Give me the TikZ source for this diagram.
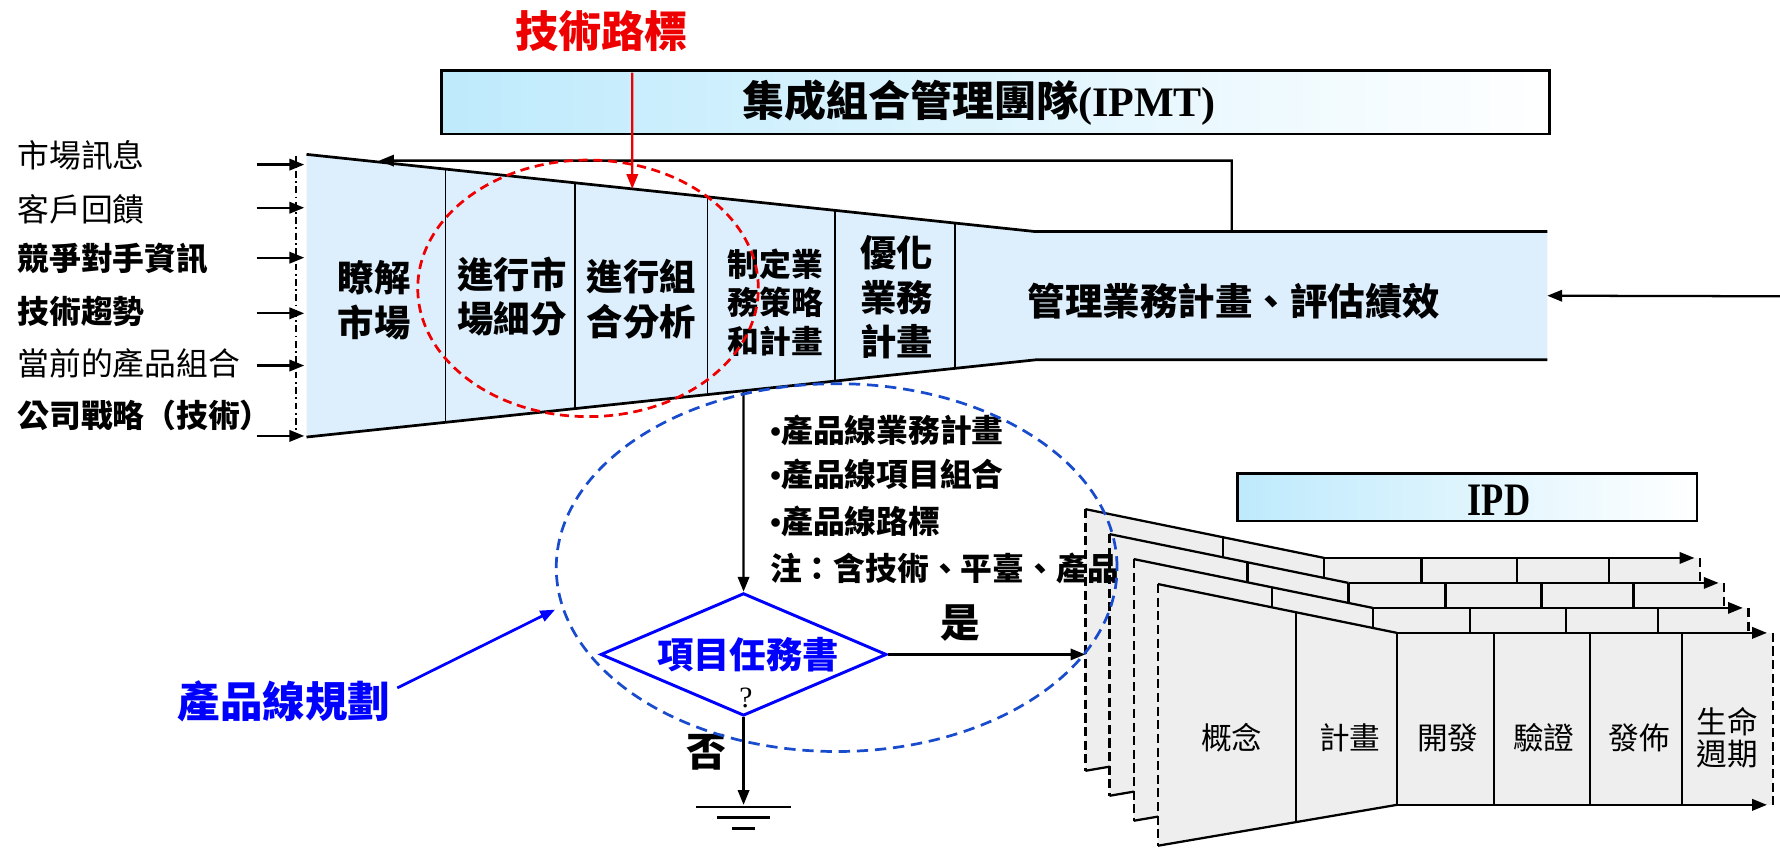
\documentclass[tikz,border=0pt]{standalone}
\usepackage{graphicx}
\usepackage{fontspec}
\setmainfont{Noto Sans CJK TC}
\newfontfamily\latinserif{Liberation Serif}
\usetikzlibrary{arrows.meta,shapes.geometric,calc}
\definecolor{funnelblue}{RGB}{221,238,253}
\definecolor{boxblue}{RGB}{190,234,252}
\definecolor{pagegray}{RGB}{238,238,238}
\definecolor{ellblue}{RGB}{25,75,205}
\definecolor{textblue}{RGB}{0,0,255}
\definecolor{textred}{RGB}{238,0,0}
\newcommand{\blt}{{\latinserif\bfseries •}}
\tikzset{
  arr/.style={-{Triangle[length=6.5pt,width=5pt]}, line width=1pt},
  lbl/.style={anchor=west, inner sep=0pt, font=\fontsize{14pt}{17pt}\selectfont},
  lblb/.style={anchor=west, inner sep=0pt, font=\fontsize{14pt}{17pt}\selectfont\bfseries},
  stage/.style={align=center, inner sep=0pt, font=\fontsize{16pt}{19.5pt}\selectfont\bfseries},
  stagesm/.style={align=center, inner sep=0pt, font=\fontsize{14pt}{17pt}\selectfont\bfseries},
  gradbox/.style={draw=black, line width=1pt, left color=boxblue, right color=white, inner sep=0pt},
  pgline/.style={line width=1pt},
  pgdash/.style={line width=1pt, dash pattern=on 4pt off 2pt},
  pglabel/.style={align=center, inner sep=0pt, font=\fontsize{13.5pt}{14.25pt}\selectfont},
  bulletline/.style={anchor=west, inner sep=0pt, font=\fontsize{14pt}{17pt}\selectfont\bfseries},
  bigbold/.style={inner sep=0pt, font=\fontsize{17.5pt}{20pt}\selectfont\bfseries},
}
\begin{document}
\begin{tikzpicture}[x=0.5pt,y=-0.5pt]
\useasboundingbox (0,0) rectangle (1568,747);

% title
\node[text=textred, font=\fontsize{19pt}{23pt}\selectfont\bfseries, inner sep=0pt] (troad) at (530,27) {技術路標};

% IPMT box
\node[gradbox, minimum width=488pt, minimum height=28pt] (ipmt) at (877,90) {};
\node[inner sep=0pt, font=\fontsize{18.5pt}{22pt}\selectfont] (ipmtlabel) at (862.5,90) {\bfseries 集成組合管理團隊{\latinserif (IPMT)}};

% funnel
\coordinate (ftl) at (270,136);
\coordinate (ftm) at (912,204);
\coordinate (ftr) at (1363,204);
\coordinate (fbl) at (270,385);
\coordinate (fbm) at (912,317);
\coordinate (fbr) at (1363,317);
\fill[funnelblue] (ftl) -- (ftm) -- (ftr) -- (fbr) -- (fbm) -- (fbl) -- cycle;
\draw[line width=1.2pt] (ftl) -- (ftm) -- (ftr);
\draw[line width=1.2pt] (fbl) -- (fbm) -- (fbr);
\foreach \t in {0.1907,0.3684,0.5503,0.7249,0.8894}
  \draw[line width=0.8pt] ($(ftl)!\t!(ftm)$) -- ($(fbl)!\t!(fbm)$);

% left dash-dot boundary
\coordinate (ddtop) at (261,137);
\coordinate (ddbot) at (261,386);
\draw[line width=0.8pt, dash pattern=on 3pt off 1.5pt on 0.8pt off 1.5pt] (ddtop) -- (ddbot);

% input labels
\node[lbl]  (l1) at (15,137) {市場訊息};
\node[lbl]  (l2) at (15,184) {客戶回饋};
\node[lblb] (l3) at (15,228) {競爭對手資訊};
\node[lblb] (l4) at (15,274) {技術趨勢};
\node[lbl]  (l5) at (15,320) {當前的產品組合};
\node[lblb] (l6) at (15,366) {公司戰略（技術）};

% input arrows
\foreach \i/\y in {1/145,2/183,3/227,4/276,5/322,6/384}{
  \coordinate (ia\i) at (226,\y);
  \coordinate (ib\i) at (268,\y);
  \draw[arr] (ia\i) -- (ib\i);
}

% stage texts
\node[stage] (s1) at (329.5,264.5) {瞭解\\市場};
\node[stage] (s2) at (451,261.5) {進行市\\場細分};
\node[stage] (s3) at (565,263.5) {進行組\\合分析};
\node[stagesm] (s4) at (683,266.5) {制定業\\務策略\\和計畫};
\node[stage] (s5) at (790,262) {優化\\業務\\計畫};
\node[inner sep=0pt, font=\fontsize{16.5pt}{20pt}\selectfont\bfseries] (s6) at (1087,265) {管理業務計畫、評估績效};

% feedback loop
\coordinate (fbstart) at ($(ftm)!0.3836!(ftr)$);
\coordinate (fbcorner) at (1085,141.5);
\coordinate (fbend) at (334,141.5);
\draw[arr] (fbstart) -- (fbcorner) -- (fbend);

% right input
\coordinate (rin) at (1568,261);
\coordinate (rend) at ($(ftr)!0.5!(fbr)$);
\draw[arr] (rin) -- (rend);

% red arrow from technology roadmap
\coordinate (redstart) at (557,64);
\coordinate (redend) at ($(ftl)!0.447!(ftm)$);
\draw[textred, -{Triangle[length=6.5pt,width=5pt]}, line width=1pt] (redstart) -- (redend);

% IPD page stack
\foreach \k in {3,2,1,0}{
  \begin{scope}[shift={(-21.3*\k,-22*\k)}]
    \coordinate (pg\k tl) at (1020,514.5);
    \coordinate (pg\k bl) at (1020,745);
    \coordinate (pg\k ct) at (1230.5,557.5);
    \coordinate (pg\k cb) at (1230.5,709);
    \coordinate (pg\k rt) at (1561.5,557.5);
    \coordinate (pg\k rb) at (1561.5,709);
    \coordinate (pg\k at) at (1556.5,557.5);
    \coordinate (pg\k ab) at (1556.5,709);
    \fill[pagegray] (pg\k tl) -- (pg\k ct) -- (pg\k rt) -- (pg\k rb) -- (pg\k cb) -- (pg\k bl) -- cycle;
    \draw[pgline] ($(pg\k tl)!0.5772!(pg\k ct)$) -- ($(pg\k bl)!0.5772!(pg\k cb)$);
    \foreach \xx in {1316,1400.5,1481.5}
      \draw[pgline] (\xx,557.5) -- (\xx,709);
    \draw[pgline] (pg\k tl) -- (pg\k ct);
    \draw[pgline] (pg\k bl) -- (pg\k cb);
    \draw[pgline] (pg\k ct) -- (pg\k cb);
    \draw[pgdash] (pg\k tl) -- (pg\k bl);
    \draw[pgdash] (pg\k rt) -- (pg\k rb);
    \draw[arr] (pg\k ct) -- (pg\k at);
    \draw[arr] (pg\k cb) -- (pg\k ab);
  \end{scope}
}
\node[pglabel] (c1) at (1085,650) {概念};
\node[pglabel] (c2) at (1189,650) {計畫};
\node[pglabel] (c3) at (1275.5,650) {開發};
\node[pglabel] (c4) at (1360,650) {驗證};
\node[pglabel] (c5) at (1444,650) {發佈};
\node[pglabel] (c6) at (1521.5,650) {生命\\週期};

% IPD box
\node[gradbox, minimum width=202.5pt, minimum height=21pt] (ipd) at (1292.5,438) {};
\node[inner sep=0pt, font=\fontsize{20.5pt}{24pt}\latinserif\bfseries] (ipdlabel) at (1320.5,440.5) {\scalebox{0.78}[1]{IPD}};

% product line planning outputs
\node[bulletline] (b1) at (678,379) {\blt 產品線業務計畫};
\node[bulletline] (b2) at (678,418) {\blt 產品線項目組合};
\node[bulletline] (b3) at (678,459.5) {\blt 產品線路標};
\node[bulletline] (b4) at (678,500.6) {注：含技術、平臺、產品};

% decision
\node[diamond, draw=textblue, line width=1.3pt, minimum width=126pt, minimum height=54pt, aspect=2.33, inner sep=0pt] (dia) at (655,576.5) {};
\node[text=textblue, inner sep=0pt, font=\fontsize{16pt}{19pt}\selectfont\bfseries] (diat) at (659,577) {項目任務書};
\node[inner sep=0pt, font=\fontsize{13pt}{15pt}\latinserif] (qm) at (657,615) {?};

\coordinate (fdown) at ($(fbl)!0.5997!(fbm)$);
\draw[arr] (fdown) -- (dia.north);

\coordinate (yesend) at (956,576.5);
\draw[arr] (dia.east) -- (yesend);
\node[bigbold] (yes) at (846,549) {是};

\coordinate (gnd) at (655,709);
\draw[arr] (dia.south) -- (gnd);
\node[bigbold] (no) at (622,663) {否};
\draw[line width=1.2pt] (613,711) -- (697,711);
\draw[line width=1.2pt] (631.5,720) -- (678.5,720);
\draw[line width=1.2pt] (645,730) -- (665,730);

% product line planning label
\node[text=textblue, inner sep=0pt, font=\fontsize{18.7pt}{22pt}\selectfont\bfseries] (plp) at (250,618) {產品線規劃};
\coordinate (plpstart) at (350,606);
\coordinate (plpend) at (489,537);
\draw[textblue, -{Triangle[length=6.5pt,width=5pt]}, line width=1.2pt] (plpstart) -- (plpend);

% ellipses
\draw[textred, line width=1.2pt, dash pattern=on 4pt off 2.5pt] (518,254) ellipse [x radius=75pt, y radius=56.5pt];
\draw[ellblue, line width=1.2pt, dash pattern=on 5pt off 3pt] (737,500) ellipse [x radius=123.5pt, y radius=81pt];

\end{tikzpicture}
\end{document}
